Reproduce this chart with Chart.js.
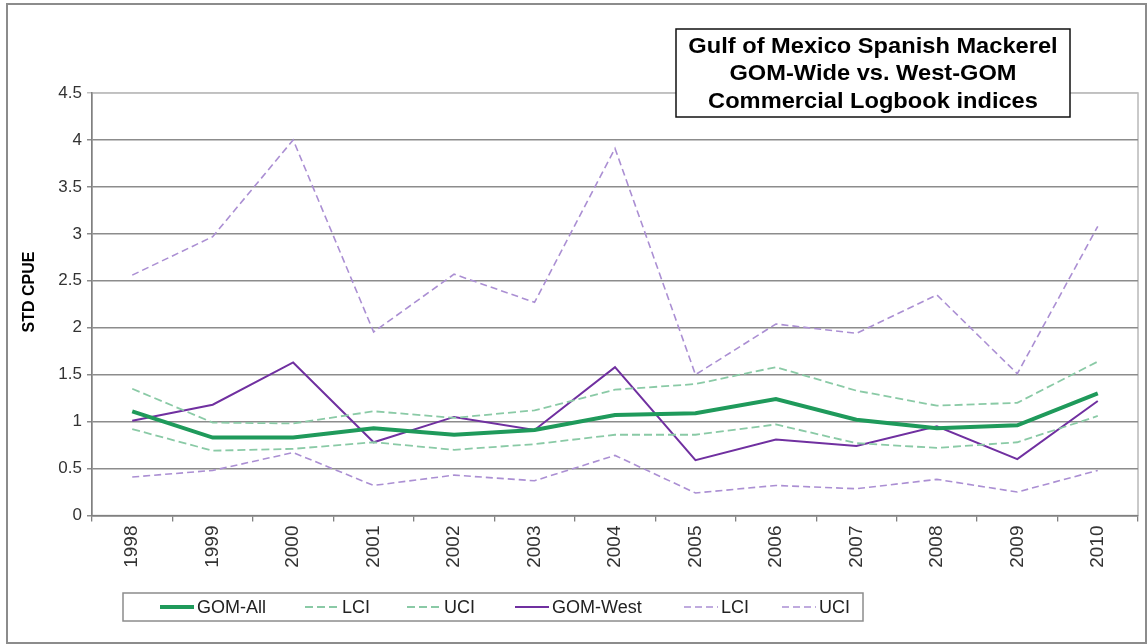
<!DOCTYPE html>
<html>
<head>
<meta charset="utf-8">
<title>Gulf of Mexico Spanish Mackerel CPUE</title>
<script src="https://cdn.jsdelivr.net/npm/chart.js@4"></script>
<style>
  html, body { margin: 0; padding: 0; background: #fff; }
  canvas { display: block; }
</style>
</head>
<body>
<canvas id="cpueChart" width="1147" height="644"></canvas>
<script>
// standardized CPUE by year, GOM-wide and West-GOM, with confidence limits
const years = ['1998', '1999', '2000', '2001', '2002', '2003', '2004', '2005', '2006', '2007', '2008', '2009', '2010'];
const gomAll    = [1.11, 0.83, 0.83, 0.93, 0.86, 0.91, 1.07, 1.09, 1.24, 1.02, 0.93, 0.96, 1.30];
const gomAllLci = [0.92, 0.69, 0.71, 0.78, 0.70, 0.76, 0.86, 0.86, 0.97, 0.77, 0.72, 0.78, 1.06];
const gomAllUci = [1.35, 0.99, 0.98, 1.11, 1.04, 1.12, 1.34, 1.40, 1.58, 1.33, 1.17, 1.20, 1.64];
const gomWest    = [1.01, 1.18, 1.63, 0.78, 1.05, 0.91, 1.58, 0.59, 0.81, 0.74, 0.95, 0.60, 1.22];
const gomWestLci = [0.41, 0.48, 0.67, 0.32, 0.43, 0.37, 0.64, 0.24, 0.32, 0.285, 0.385, 0.25, 0.48];
const gomWestUci = [2.56, 2.97, 4.00, 1.955, 2.57, 2.27, 3.91, 1.50, 2.04, 1.94, 2.35, 1.51, 3.08];

const titleLines = ['Gulf of Mexico Spanish Mackerel', 'GOM-Wide vs. West-GOM', 'Commercial Logbook indices'];
const yAxisTitle = 'STD CPUE';

const green = '#1f9a5b';
const greenLight = '#8acaa6';
const purple = '#7030a0';
const purpleLight = '#ab8fd3';
const fontFamily = '"Liberation Sans", Arial, sans-serif';

function series(label, data, color, width, dash) {
    return {
        label: label,
        data: data,
        borderColor: color,
        backgroundColor: color,
        borderWidth: width,
        borderDash: dash,
        pointRadius: 0,
        tension: 0,
        fill: false
    };
}

// x position where each legend entry starts
const legendX = [160, 305, 407, 515, 684, 782];

const decorations = {
    id: 'decorations',
    beforeDraw(chart) {
        const ctx = chart.ctx;
        const area = chart.chartArea;
        ctx.save();
        ctx.fillStyle = '#fff';
        ctx.fillRect(0, 0, chart.width, chart.height);
        ctx.strokeStyle = '#8c8c8c';
        ctx.lineWidth = 2;
        ctx.strokeRect(7, 4, 1139, 639);
        ctx.strokeStyle = '#b8b8b8';
        ctx.lineWidth = 1.5;
        ctx.strokeRect(area.left, area.top, area.right - area.left, area.bottom - area.top);
        ctx.restore();
    },
    afterDraw(chart) {
        const ctx = chart.ctx;
        ctx.save();

        // title box, text slightly widened
        ctx.fillStyle = '#fff';
        ctx.fillRect(676, 29, 394, 88);
        ctx.strokeStyle = '#111';
        ctx.lineWidth = 1.5;
        ctx.strokeRect(676, 29, 394, 88);
        ctx.fillStyle = '#000';
        ctx.font = 'bold 21.5px ' + fontFamily;
        ctx.textAlign = 'center';
        ctx.textBaseline = 'middle';
        titleLines.forEach((line, i) => {
            ctx.save();
            ctx.translate(873, 47 + i * 27.5);
            ctx.scale(1.1, 1);
            ctx.fillText(line, 0, 0);
            ctx.restore();
        });

        // y axis title
        ctx.save();
        ctx.translate(30, 292);
        ctx.rotate(-Math.PI / 2);
        ctx.font = 'bold 16px ' + fontFamily;
        ctx.fillStyle = '#000';
        ctx.fillText(yAxisTitle, 0, 0);
        ctx.restore();

        // legend
        ctx.fillStyle = '#fff';
        ctx.fillRect(123, 593, 740, 28);
        ctx.strokeStyle = '#8c8c8c';
        ctx.lineWidth = 1.5;
        ctx.strokeRect(123, 593, 740, 28);
        ctx.font = '18px ' + fontFamily;
        ctx.textAlign = 'left';
        chart.data.datasets.forEach((ds, i) => {
            const x = legendX[i];
            const y = 607;
            ctx.beginPath();
            ctx.strokeStyle = ds.borderColor;
            ctx.lineWidth = ds.borderWidth;
            ctx.setLineDash(ds.borderDash || []);
            ctx.moveTo(x, y);
            ctx.lineTo(x + 34, y);
            ctx.stroke();
            ctx.setLineDash([]);
            ctx.fillStyle = '#222';
            ctx.fillText(ds.label, x + 37, y + 1);
        });
        ctx.restore();
    }
};

new Chart(document.getElementById('cpueChart').getContext('2d'), {
    type: 'line',
    data: {
        labels: years,
        datasets: [
            series('GOM-All', gomAll, green, 4, []),
            series('LCI', gomAllLci, greenLight, 1.8, [8, 4]),
            series('UCI', gomAllUci, greenLight, 1.8, [8, 4]),
            series('GOM-West', gomWest, purple, 2, []),
            series('LCI', gomWestLci, purpleLight, 1.6, [7, 4]),
            series('UCI', gomWestUci, purpleLight, 1.6, [7, 4])
        ]
    },
    options: {
        responsive: false,
        animation: false,
        layout: { padding: { top: 93, right: 9, left: 0, bottom: 0 } },
        plugins: {
            legend: { display: false },
            title: { display: false },
            tooltip: { enabled: false }
        },
        scales: {
            x: {
                offset: true,
                afterFit(scale) { scale.height = 128.5; },
                grid: {
                    offset: true,
                    drawOnChartArea: false,
                    drawTicks: true,
                    tickLength: 6,
                    color: '#808080',
                    lineWidth: 1.3
                },
                border: { color: '#808080', width: 1.5 },
                ticks: {
                    autoSkip: false,
                    minRotation: 90,
                    maxRotation: 90,
                    padding: 4,
                    color: '#333',
                    font: { family: fontFamily, size: 19 }
                }
            },
            y: {
                min: 0,
                max: 4.5,
                afterFit(scale) { scale.width = 92; },
                grid: {
                    color: ctx => (ctx.tick && ctx.tick.value === 4.5 ? '#c0c0c0' : '#8c8c8c'),
                    lineWidth: 1.5,
                    drawTicks: true,
                    tickLength: 5
                },
                border: { color: '#808080', width: 1.5 },
                ticks: {
                    stepSize: 0.5,
                    padding: 5,
                    color: '#333',
                    font: { family: fontFamily, size: 17 },
                    callback: value => String(value)
                }
            }
        }
    },
    plugins: [decorations]
});
</script>
</body>
</html>
